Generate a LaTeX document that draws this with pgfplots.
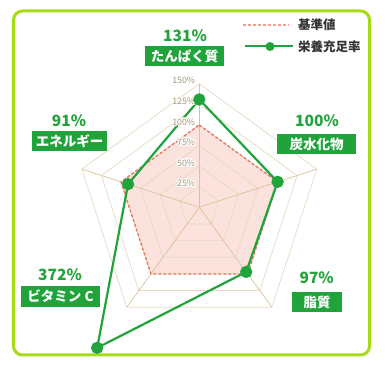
\documentclass[border=0pt]{standalone}
\usepackage{pgfplots}
\pgfplotsset{compat=1.18}
\usepgfplotslibrary{polar}
\usepackage{fontspec}
\setmainfont{Noto Sans CJK JP}
\usepackage[copies]{contour}
\contourlength{1.1pt}
\definecolor{frameg}{HTML}{A6DC16}
\definecolor{gr}{HTML}{21A33B}
\definecolor{pinkf}{HTML}{FBE2DC}
\definecolor{refl}{HTML}{E8735C}
\definecolor{legref}{HTML}{F0A090}
\definecolor{gridc}{HTML}{E6DAC2}
\definecolor{spoke}{HTML}{D9C29C}
\definecolor{lab}{HTML}{A39879}
\definecolor{txt}{HTML}{333333}
\begin{document}
\begin{tikzpicture}[x=1bp,y=1bp]
\useasboundingbox (0,0) rectangle (386,367);
\draw[frameg, line width=3bp, rounded corners=9bp] (13.5,12) rectangle (369.5,356);
\begin{polaraxis}[at={(199.3bp,159.7bp)}, anchor=origin, width=247bp, height=247bp,
  scale only axis, hide axis, ymin=0, ymax=150, xmin=0, xmax=360, clip=false]
% reference area fill
\addplot[fill=pinkf, draw=none] coordinates {(90,100) (18,100) (306,100) (234,100) (162,100)} -- cycle;
% grid
\addplot[gridc, line width=0.7bp] coordinates {(90,25) (18,25) (306,25) (234,25) (162,25)} -- cycle;
\addplot[gridc, line width=0.7bp] coordinates {(90,50) (18,50) (306,50) (234,50) (162,50)} -- cycle;
\addplot[gridc, line width=0.7bp] coordinates {(90,75) (18,75) (306,75) (234,75) (162,75)} -- cycle;
\addplot[gridc, line width=0.7bp] coordinates {(90,100) (18,100) (306,100) (234,100) (162,100)} -- cycle;
\addplot[gridc, line width=0.7bp] coordinates {(90,125) (18,125) (306,125) (234,125) (162,125)} -- cycle;
\addplot[gridc, line width=0.7bp] coordinates {(90,150) (18,150) (306,150) (234,150) (162,150)} -- cycle;
\addplot[spoke, line width=0.7bp] coordinates {(90,0) (90,150)};
\addplot[spoke, line width=0.7bp] coordinates {(18,0) (18,150)};
\addplot[spoke, line width=0.7bp] coordinates {(306,0) (306,150)};
\addplot[spoke, line width=0.7bp] coordinates {(234,0) (234,150)};
\addplot[spoke, line width=0.7bp] coordinates {(162,0) (162,150)};
% reference line (100%)
\addplot[refl, line width=1.3bp, dash pattern=on 3bp off 2bp] coordinates {(90,100) (18,100) (306,100) (234,100) (162,100)} -- cycle;
% nutrition fulfilment (vitamin C at its plotted position)
\addplot[gr, line width=2.2bp, mark=*, mark size=5bp, mark options={solid, fill=gr, draw=gr}] coordinates {(90,131) (18,100) (306,97) (234,211) (162,91)} -- cycle;
% radial tick labels
\foreach \v in {25,50,75,100,125,150} {
  \edef\tmp{\noexpand\node[anchor=east, inner sep=0pt, font=\noexpand\fontsize{8.8bp}{9bp}\noexpand\selectfont, text=lab] at (axis cs:90,\v) [xshift=-4bp, yshift=2.5bp] {\noexpand\contour{white}{\v\noexpand\%}};}
  \tmp
}
\end{polaraxis}
% category labels
\tikzset{pct/.style={text=gr, font=\fontsize{15.5bp}{16bp}\selectfont\bfseries, inner sep=0pt},
         cat/.style={fill=gr, text=white, font=\fontsize{13.5bp}{14bp}\selectfont\bfseries, minimum height=20bp, inner xsep=3bp, inner ysep=0pt}}
\node[pct] at (185,331.5) {131\%};
\node[cat, minimum width=79bp] at (184.5,310.5) {たんぱく質};
\node[pct] at (69,246) {91\%};
\node[cat, minimum width=75bp] at (69.5,225.5) {エネルギー};
\node[pct] at (317,246) {100\%};
\node[cat, minimum width=79bp] at (316.5,223) {炭水化物};
\node[pct] at (60,92) {372\%};
\node[cat, minimum width=79bp] at (60.5,70.5) {ビタミン C};
\node[pct] at (316.7,89) {97\%};
\node[cat, minimum width=50bp] at (317,65) {脂質};
% legend
\draw[legref, line width=1.2bp, dash pattern=on 3bp off 2bp] (243,342) -- (289,342);
\node[anchor=west, text=txt, font=\fontsize{12.5bp}{13bp}\selectfont\bfseries, inner sep=0pt] at (298,342) {基準値};
\draw[gr, line width=2bp] (245,320.5) -- (293,320.5);
\fill[gr] (270,320.5) circle (4.5bp);
\node[anchor=west, text=txt, font=\fontsize{12.5bp}{13bp}\selectfont\bfseries, inner sep=0pt] at (298,320.5) {栄養充足率};
\end{tikzpicture}
\end{document}
